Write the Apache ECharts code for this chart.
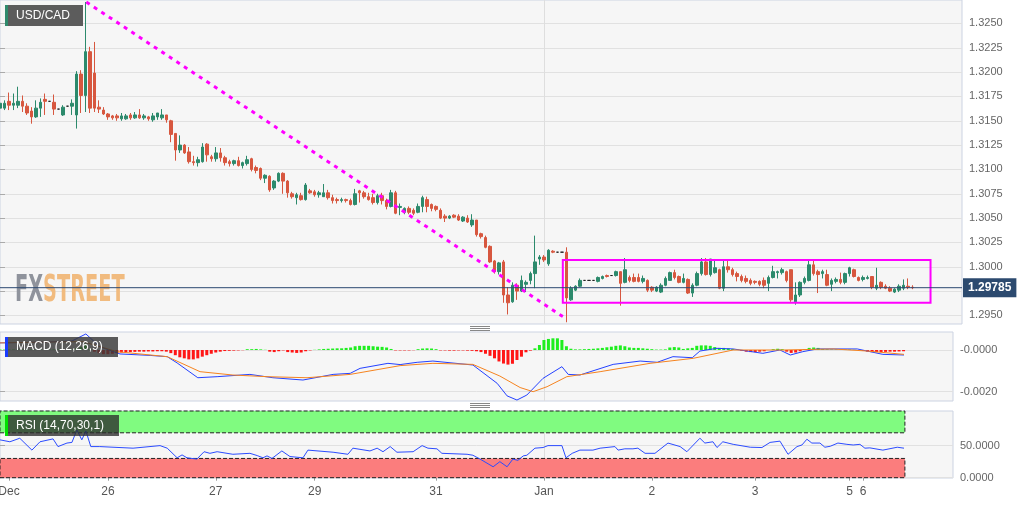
<!DOCTYPE html>
<html>
<head>
<meta charset="utf-8">
<title>USD/CAD</title>
<script src="https://cdn.jsdelivr.net/npm/echarts@6.0.0/dist/echarts.min.js"></script>
<style>
  html, body { margin: 0; padding: 0; background: #fff; }
  #chart { width: 1032px; height: 505px; }
</style>
</head>
<body>
<div id="chart"></div>
<script>
// hourly candles, [open, close, low, high]
var ohlc = [
  [1.3163,1.3168,1.3161,1.3174],[1.3163,1.3168,1.3161,1.3171],[1.3170,1.3166,1.3161,1.3179],[1.3166,1.3168,1.3161,1.3178],
  [1.3166,1.3170,1.3163,1.3185],[1.3170,1.3165,1.3159,1.3176],[1.3165,1.3158,1.3156,1.3168],[1.3160,1.3154,1.3147,1.3164],
  [1.3154,1.3163,1.3153,1.3171],[1.3163,1.3169,1.3154,1.3173],[1.3172,1.3170,1.3156,1.3178],[1.3170,1.3170,1.3170,1.3170],
  [1.3169,1.3162,1.3156,1.3177],[1.3162,1.3162,1.3162,1.3162],[1.3156,1.3164,1.3155,1.3166],[1.3165,1.3165,1.3165,1.3165],
  [1.3165,1.3168,1.3156,1.3172],[1.3156,1.3198,1.3142,1.3201],[1.3198,1.3176,1.3158,1.3202],[1.3176,1.3221,1.3159,1.3272],
  [1.3221,1.3163,1.3158,1.3226],[1.3199,1.3163,1.3159,1.3231],[1.3164,1.3162,1.3158,1.3171],[1.3161,1.3157,1.3156,1.3164],
  [1.3157,1.3154,1.3151,1.3158],[1.3155,1.3153,1.3151,1.3156],[1.3155,1.3153,1.3150,1.3157],[1.3152,1.3155,1.3150,1.3158],
  [1.3152,1.3155,1.3151,1.3157],[1.3156,1.3153,1.3151,1.3158],[1.3153,1.3156,1.3152,1.3159],[1.3156,1.3153,1.3152,1.3162],
  [1.3153,1.3155,1.3151,1.3157],[1.3154,1.3152,1.3150,1.3155],[1.3151,1.3155,1.3149,1.3158],[1.3154,1.3158,1.3151,1.3158],
  [1.3153,1.3156,1.3151,1.3162],[1.3156,1.3151,1.3148,1.3156],[1.3150,1.3136,1.3128,1.3151],[1.3137,1.3120,1.3109,1.3137],
  [1.3120,1.3125,1.3117,1.3135],[1.3125,1.3117,1.3116,1.3126],[1.3118,1.3108,1.3106,1.3123],[1.3108,1.3107,1.3104,1.3114],
  [1.3107,1.3110,1.3103,1.3113],[1.3108,1.3123,1.3107,1.3127],[1.3126,1.3115,1.3108,1.3127],[1.3113,1.3111,1.3108,1.3115],
  [1.3111,1.3117,1.3108,1.3123],[1.3117,1.3112,1.3108,1.3122],[1.3112,1.3107,1.3104,1.3114],[1.3108,1.3106,1.3103,1.3110],
  [1.3106,1.3109,1.3104,1.3110],[1.3109,1.3104,1.3103,1.3113],[1.3104,1.3107,1.3101,1.3108],[1.3106,1.3110,1.3104,1.3114],
  [1.3111,1.3100,1.3098,1.3112],[1.3102,1.3099,1.3096,1.3104],[1.3101,1.3091,1.3089,1.3102],[1.3091,1.3094,1.3086,1.3095],
  [1.3093,1.3079,1.3077,1.3094],[1.3081,1.3088,1.3079,1.3089],[1.3088,1.3096,1.3087,1.3097],[1.3096,1.3088,1.3075,1.3097],
  [1.3088,1.3076,1.3071,1.3089],[1.3075,1.3072,1.3070,1.3077],[1.3071,1.3074,1.3064,1.3076],[1.3073,1.3069,1.3068,1.3076],
  [1.3069,1.3084,1.3068,1.3086],[1.3078,1.3076,1.3075,1.3080],[1.3077,1.3074,1.3072,1.3079],[1.3074,1.3076,1.3071,1.3078],
  [1.3072,1.3076,1.3072,1.3085],[1.3076,1.3071,1.3069,1.3079],[1.3071,1.3068,1.3065,1.3074],[1.3069,1.3068,1.3065,1.3071],
  [1.3068,1.3069,1.3066,1.3071],[1.3069,1.3068,1.3066,1.3070],[1.3068,1.3064,1.3063,1.3070],[1.3064,1.3075,1.3063,1.3080],
  [1.3078,1.3076,1.3066,1.3079],[1.3076,1.3072,1.3070,1.3078],[1.3072,1.3069,1.3068,1.3076],[1.3071,1.3066,1.3064,1.3075],
  [1.3066,1.3073,1.3064,1.3075],[1.3073,1.3068,1.3064,1.3076],[1.3068,1.3062,1.3059,1.3070],[1.3062,1.3076,1.3061,1.3079],
  [1.3076,1.3055,1.3054,1.3078],[1.3061,1.3062,1.3053,1.3065],[1.3056,1.3060,1.3054,1.3061],[1.3060,1.3056,1.3054,1.3062],
  [1.3058,1.3055,1.3053,1.3060],[1.3056,1.3062,1.3055,1.3065],[1.3062,1.3071,1.3056,1.3073],[1.3069,1.3062,1.3056,1.3072],
  [1.3064,1.3060,1.3057,1.3065],[1.3062,1.3059,1.3057,1.3063],[1.3058,1.3050,1.3049,1.3060],[1.3052,1.3050,1.3046,1.3054],
  [1.3050,1.3052,1.3049,1.3053],[1.3053,1.3051,1.3050,1.3054],[1.3052,1.3048,1.3047,1.3054],[1.3047,1.3051,1.3046,1.3052],
  [1.3050,1.3046,1.3045,1.3053],[1.3043,1.3048,1.3041,1.3054],[1.3048,1.3033,1.3031,1.3048],[1.3034,1.3031,1.3029,1.3035],
  [1.3030,1.3020,1.3019,1.3032],[1.3021,1.3005,1.3004,1.3022],[1.3006,1.2995,1.2993,1.3007],[1.2995,1.3004,1.2992,1.3005],
  [1.3005,1.2971,1.2963,1.3007],[1.2971,1.2963,1.2951,1.2979],[1.2964,1.2981,1.2963,1.2984],[1.2981,1.2975,1.2966,1.2983],
  [1.2975,1.2986,1.2974,1.2991],[1.2982,1.2984,1.2974,1.2986],[1.2986,1.2993,1.2982,1.2995],[1.2993,1.3005,1.2978,1.3032],
  [1.3008,1.3010,1.3002,1.3012],[1.3010,1.3007,1.3005,1.3012],[1.3003,1.3017,1.3001,1.3018],[1.3016,1.3015,1.3014,1.3017],
  [1.3015,1.3015,1.3015,1.3015],[1.3015,1.3015,1.3015,1.3015],[1.3015,1.2968,1.2943,1.3020],[1.2966,1.2978,1.2965,1.2980],
  [1.2976,1.2980,1.2975,1.2981],[1.2980,1.2986,1.2979,1.2988],[1.2986,1.2986,1.2986,1.2986],[1.2986,1.2986,1.2986,1.2986],
  [1.2986,1.2986,1.2986,1.2986],[1.2985,1.2989,1.2984,1.2990],[1.2988,1.2990,1.2987,1.2991],[1.2991,1.2990,1.2989,1.2992],
  [1.2991,1.2991,1.2991,1.2991],[1.2991,1.2995,1.2990,1.2996],[1.2995,1.2983,1.2960,1.2995],[1.2984,1.2997,1.2983,1.3009],
  [1.2989,1.2986,1.2984,1.2991],[1.2989,1.2985,1.2984,1.2993],[1.2989,1.2985,1.2984,1.2993],[1.2985,1.2988,1.2983,1.2991],
  [1.2986,1.2976,1.2974,1.2987],[1.2979,1.2976,1.2974,1.2980],[1.2975,1.2979,1.2974,1.2980],[1.2974,1.2981,1.2973,1.2983],
  [1.2981,1.2988,1.2980,1.2990],[1.2986,1.2994,1.2986,1.2995],[1.2994,1.2989,1.2987,1.2997],[1.2990,1.2984,1.2983,1.2991],
  [1.2984,1.2988,1.2983,1.2993],[1.2987,1.2973,1.2972,1.2988],[1.2973,1.2981,1.2969,1.2983],[1.2981,1.2993,1.2980,1.2995],
  [1.2993,1.3005,1.2991,1.3009],[1.3005,1.2992,1.2991,1.3009],[1.2992,1.3008,1.2990,1.3008],[1.2994,1.2999,1.2993,1.3008],
  [1.2997,1.2978,1.2977,1.2998],[1.2978,1.3000,1.2975,1.3007],[1.3000,1.2997,1.2994,1.3007],[1.2997,1.2992,1.2990,1.2999],
  [1.2993,1.2990,1.2985,1.2995],[1.2990,1.2986,1.2984,1.2992],[1.2988,1.2985,1.2983,1.2991],[1.2986,1.2983,1.2981,1.2988],
  [1.2985,1.2984,1.2982,1.2986],[1.2985,1.2982,1.2980,1.2986],[1.2986,1.2981,1.2978,1.2989],[1.2983,1.2989,1.2975,1.2991],
  [1.2989,1.2995,1.2988,1.3001],[1.2994,1.2995,1.2988,1.2996],[1.2994,1.2997,1.2992,1.2999],[1.2995,1.2986,1.2984,1.2996],
  [1.2997,1.2966,1.2964,1.2997],[1.2964,1.2971,1.2961,1.2984],[1.2971,1.2984,1.2969,1.2985],[1.2984,1.2988,1.2982,1.2990],
  [1.2986,1.3002,1.2985,1.3006],[1.3002,1.2993,1.2991,1.3006],[1.2995,1.2992,1.2973,1.2997],[1.2993,1.2995,1.2988,1.2997],
  [1.2992,1.2981,1.2980,1.2997],[1.2982,1.2986,1.2975,1.2988],[1.2985,1.2987,1.2983,1.2989],[1.2987,1.2984,1.2982,1.2994],
  [1.2984,1.2993,1.2982,1.2994],[1.2993,1.2999,1.2990,1.3000],[1.2997,1.2990,1.2989,1.2998],[1.2989,1.2986,1.2985,1.2990],
  [1.2987,1.2989,1.2985,1.2991],[1.2988,1.2989,1.2987,1.2991],[1.2990,1.2979,1.2977,1.2990],[1.2978,1.2981,1.2976,1.2999],
  [1.2984,1.2979,1.2977,1.2985],[1.2980,1.2978,1.2977,1.2982],[1.2978,1.2975,1.2974,1.2980],[1.2974,1.2977,1.2973,1.2978],
  [1.2976,1.2980,1.2974,1.2982],[1.2978,1.2981,1.2976,1.2987],[1.2980,1.2979,1.2977,1.2988],[1.2979,1.29785,1.2977,1.2981]
];

var slotCount = 215;      // hourly slots across the price panel
var lowerSlotMax = 212;   // last slot visible in the indicator panels
var dayTicks = [2, 24, 48, 70, 97, 121, 145, 168, 189, 192];
var dayLabels = ['Dec', '26', '27', '29', '31', 'Jan', '2', '3', '5', '6'];
var monthStart = 121;

var priceTicks = [1.2950, 1.2975, 1.3000, 1.3025, 1.3050, 1.3075, 1.3100, 1.3125, 1.3150, 1.3175, 1.3200, 1.3225, 1.3250];
var priceLabelTicks = [1.2950, 1.3000, 1.3025, 1.3050, 1.3075, 1.3100, 1.3125, 1.3150, 1.3175, 1.3200, 1.3225, 1.3250];
var lastPrice = 1.29785;

var trendLine = [[19.2, 1.3272], [125.8, 1.2947]];
var rangeBox = [[125.2, 1.3007], [207, 1.2963]];

// MACD (12,26,9): [slot, value]
var macdLine = [[0,0.00034],[10,0.00038],[16,0.00043],[19.1,0.00077],[22.2,0.00016],[26.7,-0.00019],[33.4,-0.00026],
  [37.2,-0.00032],[39.4,-0.00062],[44,-0.00133],[48.3,-0.00128],[55.6,-0.00117],[60.7,-0.00133],[67.4,-0.00144],
  [74.1,-0.00117],[77.9,-0.00112],[80.1,-0.00088],[86.3,-0.00064],[89,-0.0007],[92.8,-0.00059],[96.3,-0.00053],
  [105.2,-0.00072],[110.6,-0.0016],[112.8,-0.0022],[115,-0.0024],[117.2,-0.00216],[120.8,-0.00136],[125,-0.0008],
  [126.4,-0.00117],[129,-0.0012],[136.4,-0.00069],[142.4,-0.00053],[146.2,-0.00059],[149.7,-0.00032],[154,-0.00037],
  [155.7,-0.00005],[159.5,0.00008],[163.1,0.00005],[169.7,-0.00016],[173.5,0],[175.8,-0.00024],[178.6,-0.00008],
  [181.8,0.00005],[190.7,0.00005],[196.4,-0.00021],[201.1,-0.00024]];
var signalLine = [[0,0.00034],[10,0.00038],[18.5,0.0004],[26,-0.00008],[37.2,-0.00032],[44.5,-0.00104],[51.8,-0.0012],
  [59.4,-0.00128],[68.3,-0.00133],[77.9,-0.00117],[89,-0.00075],[96.3,-0.00064],[105.2,-0.00069],[111.2,-0.00125],
  [115.7,-0.0018],[118.6,-0.002],[121.7,-0.00176],[126.1,-0.00128],[133.5,-0.00104],[144.6,-0.00064],[154.2,-0.0004],
  [163.1,0],[174.2,0],[185.3,0.00005],[192.9,-0.00005],[201.1,-0.00021]];
var macdHist = [
  0.00002,0.00002,0.00002,0.00002,0.00002,0.00002,0.00002,0.00002,0.00002,0.00002,0.00002,0.00002,0.00002,0.00002,0.00002,0.00002,0.00002,
  0.00008,0.00015,0.0003,0.00005,
  -0.00008,-0.00015,-0.0002,-0.0002,-0.00018,-0.00015,
  -0.00012,-0.0001,-0.0001,-0.00009,-0.00008,-0.00008,-0.00007,-0.00007,-0.00006,-0.00006,-0.00008,
  -0.00015,-0.00025,-0.00035,-0.0004,-0.00045,-0.00045,-0.0004,-0.00032,-0.00025,-0.00018,
  -0.00012,-0.00008,-0.00005,-0.00004,-0.00003,-0.00002,-0.00001,
  0.00004,0.00004,0.00005,0.00003,0.00001,
  -0.00008,-0.0001,-0.00006,-0.00002,
  -0.0001,-0.00012,-0.00014,-0.00012,-0.00006,-0.00002,0.00001,
  0.00003,0.00005,0.00006,0.00007,0.00008,0.00008,0.0001,0.00012,
  0.00018,0.0002,0.0002,0.0002,0.00018,0.00016,0.00015,0.00012,0.00005,
  -0.00002,-0.00002,-0.00002,-0.00002,-0.00001,
  0.00004,0.00007,0.00008,0.00007,0.00004,
  -0.00002,-0.00002,-0.00003,-0.00003,-0.00002,-0.00002,-0.00003,-0.00004,
  -0.00006,-0.0001,-0.00018,-0.00028,-0.0004,-0.00055,-0.00065,-0.0007,-0.00066,-0.00048,-0.00032,-0.00011,-0.00003,
  0.00008,0.00024,0.00048,0.00053,0.00056,0.00056,0.00048,0.00018,0.00006,
  0.00003,0.00003,0.00004,0.00005,0.00006,0.00008,0.0001,0.00013,0.00016,0.0002,0.00022,0.00018,0.00012,0.0001,0.0001,
  0.00008,0.00006,0.00004,0.00002,0.00002,0.00003,
  0.00012,0.00014,0.00012,0.00005,0.00008,
  0.0001,0.0002,0.00022,0.00022,0.0002,0.00014,
  0.0001,0.0001,0.00008,0.00005,0.00002,
  -0.00004,-0.00008,-0.0001,-0.0001,-0.00008,-0.00006,
  0,0.00004,0.00006,0.00004,
  -0.00008,-0.00014,-0.00012,-0.00006,
  0.00004,0.0001,0.00012,0.0001,
  0.00004,0.00003,0.00002,0.00002,0.00001,0.00002,0.00002,0.00001,0,
  -0.00004,-0.00008,-0.0001,-0.0001,-0.0001,-0.00009,-0.00008,-0.00008,-0.00007,-0.00006
];
var macdTicks = [0, -0.002];
var macdTickLabels = ['-0.0000', '-0.0020'];

// RSI (14,70,30,1): [slot, value]
var rsiLine = [[0,59],[2.2,56],[4.4,61.5],[7.1,43],[8.9,56],[11.8,60.5],[12.9,48.5],[14.9,54],[16,55],[17.1,74.5],
  [18.2,59],[19.1,73],[20.2,48.5],[22.2,48.5],[29.6,46],[35.6,50],[37.2,46],[39.4,31],[40.5,35.5],[41.6,31],[43.8,29],
  [45.4,40.5],[46.7,38],[48.3,40.5],[51.8,36.5],[55.6,38],[57.2,34.5],[58.5,31],[59.4,34],[60.5,30],[62.7,41.7],
  [64.5,33],[67.4,31],[68.5,43],[74.1,39.7],[77.4,36.5],[78.5,46],[82.3,41.7],[83.9,46],[85.2,40.5],[86.8,48.5],
  [88.3,39.7],[91.9,40.5],[93.9,50],[95.2,46],[97.2,45],[98.3,38],[103.9,36.5],[105.2,35],[106.8,29],[109.7,17],
  [111.2,25],[112.8,17],[114.1,29],[115.2,27],[116.4,34],[117.2,35],[119,46],[120.8,47],[121.9,50],[125,50],
  [125.9,31],[127.3,38],[129,43],[131.9,43],[133.5,46],[136.8,48.5],[137.5,43],[139,45],[140.8,45],[141.9,46],
  [143.5,38],[145.7,38],[148.6,54],[151.3,48.5],[152.8,40.5],[155.7,61.5],[156.8,54],[158.6,56],[159.5,47],[160.8,56],
  [163.1,52],[166.9,47.5],[169.5,47],[171.3,55],[173.5,57],[175.3,36.5],[177.3,48.5],[178.4,51],[179.5,60],[180.6,54],
  [182.4,54],[183.5,47.5],[184.7,49],[186.4,54],[188.4,52],[189.8,51],[191.3,52],[192.4,46],[193.5,46.5],[196.4,43],
  [199.6,47.5],[201.1,46]];
var rsiBands = [[70, 104], [0, 30]];
var rsiEnd = 201.3;
var rsiTicks = [0, 50];
var rsiTickLabels = ['0.0000', '50.0000'];

var UP = '#2c8a6c', DOWN = '#d7573f';
var GRID_BG = '#f6f6f6', GRID_BORDER = '#ccd3e2', SPLIT = '#e1e1e1';

var slots = [];
for (var i = 0; i < slotCount; i++) slots.push(String(i));

var candleData = ohlc.map(function (d) {
  if (d[0] === d[1] && d[2] === d[3]) {
    return { value: d, itemStyle: { color: '#222', color0: '#222', borderColor: '#222', borderColor0: '#222', borderColorDoji: '#222' } };
  }
  return d;
});
var histData = macdHist.map(function (v, i) { return [i, v]; });
var lastPriceLine = [[0, lastPrice], [slotCount - 1, lastPrice]];

function pick(ticks, labels) {
  return function (v) {
    for (var j = 0; j < ticks.length; j++) if (Math.abs(ticks[j] - v) < 1e-9) return labels[j];
    return '';
  };
}

var chart = echarts.init(document.getElementById('chart'), null, { renderer: 'canvas' });

var option = {
  animation: false,
  backgroundColor: '#ffffff',
  textStyle: { fontFamily: '"Liberation Sans", Arial, sans-serif' },
  grid: [
    { left: 0, top: 0, width: 962, height: 324, show: true, backgroundColor: GRID_BG, borderColor: GRID_BORDER, borderWidth: 1, outerBoundsMode: 'none' },
    { left: 0, top: 332, width: 953, height: 69, show: true, backgroundColor: GRID_BG, borderColor: GRID_BORDER, borderWidth: 1, outerBoundsMode: 'none' },
    { left: 0, top: 411, width: 953, height: 67, show: true, backgroundColor: GRID_BG, borderColor: GRID_BORDER, borderWidth: 1, outerBoundsMode: 'none' }
  ],
  xAxis: [
    { type: 'category', gridIndex: 0, data: slots, boundaryGap: false, show: false },
    { type: 'value', gridIndex: 0, min: 0, max: slotCount - 1, show: false },
    { type: 'value', gridIndex: 1, min: 0, max: lowerSlotMax, show: false },
    {
      type: 'value', gridIndex: 2, min: 0, max: lowerSlotMax,
      axisLine: { show: false },
      splitLine: { show: false },
      axisTick: { show: true, length: 3, customValues: dayTicks, lineStyle: { color: '#999' } },
      axisLabel: { customValues: dayTicks, formatter: pick(dayTicks, dayLabels), color: '#555', fontSize: 12, margin: 8 }
    }
  ],
  yAxis: [
    {
      type: 'value', gridIndex: 0, position: 'right', min: 1.29412, max: 1.32741,
      axisLine: { show: false },
      axisTick: { show: true, length: 5, customValues: priceTicks, lineStyle: { color: '#aaa' } },
      axisLabel: { customValues: priceLabelTicks, formatter: function (v) { return v.toFixed(4); }, color: '#666', fontSize: 11, margin: 7 },
      splitLine: { show: true, lineStyle: { color: SPLIT, width: 1 } }
    },
    {
      type: 'value', gridIndex: 1, position: 'right', min: -0.002446, max: 0.000863,
      axisLine: { show: false },
      axisTick: { show: true, length: 5, customValues: macdTicks, lineStyle: { color: '#aaa' } },
      axisLabel: { customValues: macdTicks, formatter: pick(macdTicks, macdTickLabels), color: '#666', fontSize: 11, margin: 7 },
      splitLine: { show: true, lineStyle: { color: SPLIT, width: 1 } }
    },
    {
      type: 'value', gridIndex: 2, position: 'right', min: -0.5, max: 104,
      axisLine: { show: false },
      axisTick: { show: true, length: 5, customValues: rsiTicks, lineStyle: { color: '#aaa' } },
      axisLabel: { customValues: rsiTicks, formatter: pick(rsiTicks, rsiTickLabels), color: '#666', fontSize: 11, margin: 7 },
      splitLine: { show: true, lineStyle: { color: SPLIT, width: 1 } }
    }
  ],
  series: [
    {
      name: 'USD/CAD', type: 'candlestick', xAxisIndex: 0, yAxisIndex: 0, barWidth: 3,
      itemStyle: { color: UP, color0: DOWN, borderColor: UP, borderColor0: DOWN, borderWidth: 1 },
      data: candleData
    },
    {
      name: 'last', type: 'line', xAxisIndex: 1, yAxisIndex: 0, z: 5, silent: true,
      data: lastPriceLine, symbol: 'none',
      lineStyle: { color: '#2b4870', width: 1 },
      endLabel: {
        show: true, distance: 1,
        formatter: function () { return lastPrice.toFixed(5); },
        backgroundColor: '#2c4a6f', color: '#fff', fontWeight: 'bold', fontSize: 12,
        padding: [4, 5, 3, 5]
      }
    },
    {
      name: 'trend', type: 'line', xAxisIndex: 1, yAxisIndex: 0, z: 4,
      data: trendLine, symbol: 'none', silent: true,
      lineStyle: { color: '#ff00ff', width: 3, type: [4, 5] },
      markArea: {
        silent: true, z: 4,
        itemStyle: { color: 'rgba(0,0,0,0)', borderColor: '#ff00ff', borderWidth: 2 },
        data: [[{ coord: rangeBox[0] }, { coord: rangeBox[1] }]]
      },
      markLine: {
        silent: true, symbol: 'none', z: 1, label: { show: false },
        lineStyle: { color: '#dedede', width: 1, type: 'solid' },
        data: [{ xAxis: monthStart }]
      }
    },
    {
      name: 'hist', type: 'bar', xAxisIndex: 2, yAxisIndex: 1, barWidth: 3, z: 2, silent: true,
      data: histData,
      itemStyle: { color: function (p) { return p.value[1] >= 0 ? '#1eee1e' : '#ff1616'; } },
      markLine: {
        silent: true, symbol: 'none', z: 1, label: { show: false },
        lineStyle: { color: '#dedede', width: 1, type: 'solid' },
        data: [{ xAxis: monthStart }]
      }
    },
    {
      name: 'MACD', type: 'line', xAxisIndex: 2, yAxisIndex: 1, z: 3, symbol: 'none', silent: true,
      data: macdLine, lineStyle: { color: '#2441ff', width: 1 }
    },
    {
      name: 'Signal', type: 'line', xAxisIndex: 2, yAxisIndex: 1, z: 3, symbol: 'none', silent: true,
      data: signalLine, lineStyle: { color: '#f5831f', width: 1 }
    },
    {
      name: 'RSI', type: 'line', xAxisIndex: 3, yAxisIndex: 2, z: 3, symbol: 'none', silent: true,
      data: rsiLine, lineStyle: { color: '#2b4bff', width: 1 },
      markArea: {
        silent: true, z: 2,
        data: [
          [{ coord: [0, rsiBands[0][0]], itemStyle: { color: '#80fb80', borderColor: '#222', borderWidth: 1, borderType: 'dashed' } },
           { coord: [rsiEnd, rsiBands[0][1]] }],
          [{ coord: [0, rsiBands[1][0]], itemStyle: { color: '#fb7d7d', borderColor: '#222', borderWidth: 1, borderType: 'dashed' } },
           { coord: [rsiEnd, rsiBands[1][1]] }]
        ]
      },
      markLine: {
        silent: true, symbol: 'none', z: 1, label: { show: false },
        lineStyle: { color: '#dedede', width: 1, type: 'solid' },
        data: [{ xAxis: monthStart }]
      }
    }
  ],
  graphic: [
    {
      type: 'text', x: 15, y: 291, z: 1, scaleX: 0.58, silent: true,
      style: {
        text: '{a|FX}{b|STREET}', verticalAlign: 'middle',
        rich: {
          a: { fill: '#8f939c', fontSize: 37, fontWeight: 'bold', fontFamily: '"Liberation Sans Narrow", "DejaVu Sans Condensed", sans-serif' },
          b: { fill: '#f1bb7f', fontSize: 37, fontWeight: 'bold', fontFamily: '"Liberation Sans Narrow", "DejaVu Sans Condensed", sans-serif' }
        }
      }
    },
    { type: 'rect', z: 100, silent: true, shape: { x: 5, y: 5, width: 78, height: 21 }, style: { fill: '#5c5c5c' } },
    { type: 'rect', z: 101, silent: true, shape: { x: 5, y: 5, width: 3, height: 21 }, style: { fill: '#2f8a6c' } },
    { type: 'text', z: 102, silent: true, x: 16, y: 15.5, style: { text: 'USD/CAD', fill: '#fff', fontSize: 12, fontFamily: '"Liberation Sans", Arial, sans-serif', verticalAlign: 'middle' } },

    { type: 'rect', z: 100, silent: true, shape: { x: 5, y: 337, width: 113, height: 20 }, style: { fill: 'rgba(55,55,55,0.82)' } },
    { type: 'rect', z: 101, silent: true, shape: { x: 5, y: 337, width: 3, height: 20 }, style: { fill: '#1a3cff' } },
    { type: 'text', z: 102, silent: true, x: 16, y: 347, style: { text: 'MACD (12,26,9)', fill: '#fff', fontSize: 12, fontFamily: '"Liberation Sans", Arial, sans-serif', verticalAlign: 'middle' } },

    { type: 'rect', z: 100, silent: true, shape: { x: 5, y: 415, width: 114, height: 21 }, style: { fill: 'rgba(45,45,45,0.78)' } },
    { type: 'rect', z: 101, silent: true, shape: { x: 5, y: 415, width: 3, height: 21 }, style: { fill: '#00e000' } },
    { type: 'text', z: 102, silent: true, x: 16, y: 425.5, style: { text: 'RSI (14,70,30,1)', fill: '#fff', fontSize: 12, fontFamily: '"Liberation Sans", Arial, sans-serif', verticalAlign: 'middle' } },

    { type: 'line', z: 100, silent: true, shape: { x1: 470, y1: 326.5, x2: 490, y2: 326.5 }, style: { stroke: '#888', lineWidth: 1 } },
    { type: 'line', z: 100, silent: true, shape: { x1: 470, y1: 328.5, x2: 490, y2: 328.5 }, style: { stroke: '#888', lineWidth: 1 } },
    { type: 'line', z: 100, silent: true, shape: { x1: 470, y1: 330.5, x2: 490, y2: 330.5 }, style: { stroke: '#888', lineWidth: 1 } },
    { type: 'line', z: 100, silent: true, shape: { x1: 470, y1: 403.5, x2: 490, y2: 403.5 }, style: { stroke: '#888', lineWidth: 1 } },
    { type: 'line', z: 100, silent: true, shape: { x1: 470, y1: 405.5, x2: 490, y2: 405.5 }, style: { stroke: '#888', lineWidth: 1 } },
    { type: 'line', z: 100, silent: true, shape: { x1: 470, y1: 407.5, x2: 490, y2: 407.5 }, style: { stroke: '#888', lineWidth: 1 } }
  ]
};

chart.setOption(option);

window.onresize = function () {
  chart.resize();
};
</script>
</body>
</html>
